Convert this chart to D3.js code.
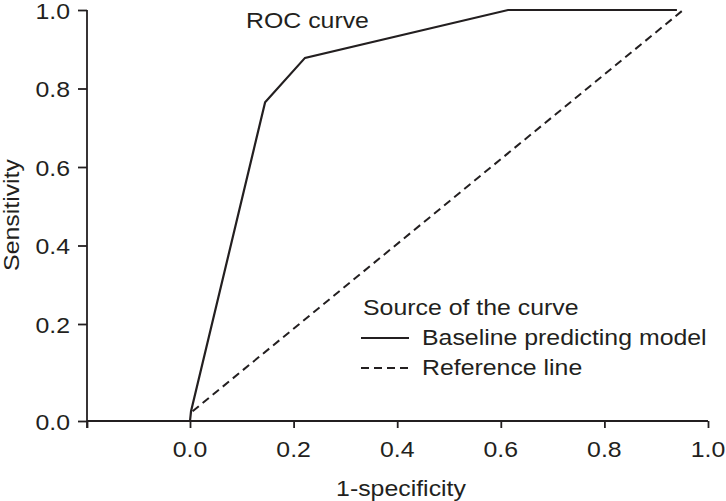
<!DOCTYPE html>
<html>
<head>
<meta charset="utf-8">
<script src="https://cdn.jsdelivr.net/npm/d3@7"></script>
<style>
  html, body { margin: 0; padding: 0; background: #fff; }
  svg text { font-family: "Liberation Sans", Arial, Helvetica, sans-serif; fill: #231f20; }
</style>
</head>
<body>
<svg id="chart" width="726" height="501"></svg>
<script>
// ---- data ----
const xTickValues = [-0.2, 0.0, 0.2, 0.4, 0.6, 0.8, 1.0];
const xTickLabels = ["", "0.0", "0.2", "0.4", "0.6", "0.8", "1.0"];
const yTickValues = [0.0, 0.2, 0.4, 0.6, 0.8, 1.0];
const yTickLabels = ["0.0", "0.2", "0.4", "0.6", "0.8", "1.0"];
const rocX = [0.0, 0.002, 0.145, 0.222, 0.614, 0.94];
const rocY = [0.0, 0.02, 0.765, 0.878, 1.0, 1.0];
const refX = [0.005, 0.952];
const refY = [0.02, 1.0];
const legendTitle = "Source of the curve";
const legendNames = ["Baseline predicting model", "Reference line"];
const chartTitle = "ROC curve";
const xTitle = "1-specificity";
const yTitle = "Sensitivity";

// ---- setup ----
const ink = "#231f20";
const FS = 22;      // font size
const SX = 1.13;    // horizontal stretch of the reference lettering
const svg = d3.select("#chart");
const x = d3.scaleLinear().domain([-0.2, 0, 1]).range([87, 190, 708]);
const y = d3.scaleLinear().domain([0, 0.2, 1]).range([421, 324, 10]);

function addText(parent, px, py, str, anchor, rot) {
  return parent.append("text")
    .attr("transform", `translate(${px},${py})${rot ? ` rotate(${rot})` : ""} scale(${SX},1)`)
    .attr("text-anchor", anchor || "start")
    .style("font-size", FS + "px")
    .text(str);
}

// axes (ticks via d3 axis, labels placed with the same scales)
const xAxis = d3.axisBottom(x).tickValues(xTickValues).tickFormat("").tickSize(7);
const yAxis = d3.axisLeft(y).tickValues(yTickValues).tickFormat("").tickSize(9);
const gx = svg.append("g").attr("transform", `translate(0,${y(0)})`).call(xAxis);
const gy = svg.append("g").attr("transform", `translate(${x(-0.2)},0)`).call(yAxis);
[gx, gy].forEach(g => {
  g.select(".domain").remove();
  g.selectAll(".tick line").attr("stroke", ink).attr("stroke-width", 1.8);
  g.selectAll(".tick text").remove();
});
xTickValues.forEach((v, i) => {
  if (xTickLabels[i]) addText(svg, x(v), y(0) + 36, xTickLabels[i], "middle");
});
yTickValues.forEach((v, i) => {
  addText(svg, x(-0.2) - 17, y(v) + 8.5, yTickLabels[i], "end");
});

// axis lines
svg.append("line").attr("x1", x(-0.2)).attr("x2", x(1)).attr("y1", y(0)).attr("y2", y(0))
  .attr("stroke", ink).attr("stroke-width", 1.8);
svg.append("line").attr("x1", x(-0.2)).attr("x2", x(-0.2)).attr("y1", y(1)).attr("y2", y(0) + 7)
  .attr("stroke", ink).attr("stroke-width", 1.8);

// lines
const line = d3.line().x(d => x(d[0])).y(d => y(d[1]));
svg.append("path").datum(refX.map((v, i) => [v, refY[i]]))
  .attr("d", line).attr("fill", "none").attr("stroke", ink)
  .attr("stroke-width", 2).attr("stroke-dasharray", "8,5");
svg.append("path").datum(rocX.map((v, i) => [v, rocY[i]]))
  .attr("d", line).attr("fill", "none").attr("stroke", ink)
  .attr("stroke-width", 2.2).attr("stroke-linejoin", "miter");

// titles
addText(svg, 246, 28, chartTitle, "start");
addText(svg, 401, 496, xTitle, "middle");
addText(svg, 19, 215, yTitle, "middle", -90);

// legend
const lg = svg.append("g");
addText(lg, 363, 315, legendTitle, "start");
const styles = [null, "8,5"];
legendNames.forEach((n, i) => {
  const yy = 338 + i * 30;
  lg.append("line").attr("x1", 361).attr("x2", 409).attr("y1", yy).attr("y2", yy)
    .attr("stroke", ink).attr("stroke-width", 1.8).attr("stroke-dasharray", styles[i]);
  addText(lg, 422, yy + 7, n, "start");
});
</script>
</body>
</html>
